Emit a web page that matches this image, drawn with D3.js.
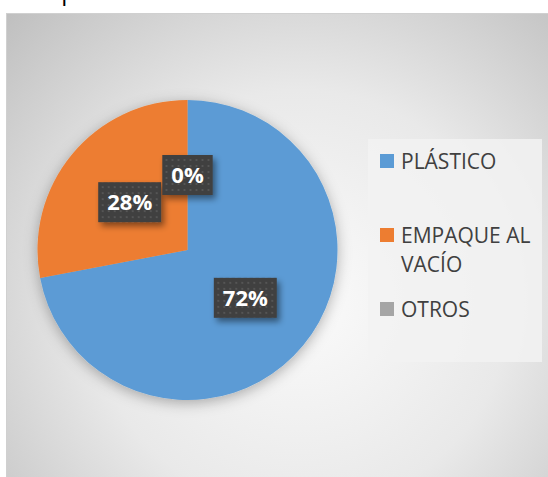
<!DOCTYPE html>
<html>
<head>
<meta charset="utf-8">
<script src="https://cdn.jsdelivr.net/npm/d3@7"></script>
<style>
  html, body { margin: 0; padding: 0; background: #ffffff; }
  svg { display: block; }
</style>
</head>
<body>
<div id="chart"></div>
<script>
// Packaging type shares
const categories = ["PLÁSTICO", "EMPAQUE AL VACÍO", "OTROS"];
const values = [72, 28, 0];
const labels = ["72%", "28%", "0%"];
const legendLines = [["PLÁSTICO"], ["EMPAQUE AL", "VACÍO"], ["OTROS"]];
const colors = ["#5B9BD5", "#ED7D31", "#A5A5A5"];
const title = "Tipo";

const W = 548, H = 477;
const svg = d3.select("#chart").append("svg")
  .attr("width", W).attr("height", H);

const defs = svg.append("defs");

// chart area background: soft radial gradient
const bg = defs.append("radialGradient")
  .attr("id", "bgGrad")
  .attr("gradientUnits", "userSpaceOnUse")
  .attr("cx", 300).attr("cy", 300).attr("r", 420);
bg.append("stop").attr("offset", "0").attr("stop-color", "#fbfbfb");
bg.append("stop").attr("offset", "0.5").attr("stop-color", "#e9e9e9");
bg.append("stop").attr("offset", "1").attr("stop-color", "#bdbdbd");

// pie halo shadow
const pieShadow = defs.append("filter").attr("id", "pieShadow")
  .attr("x", "-30%").attr("y", "-30%").attr("width", "160%").attr("height", "160%");
pieShadow.append("feDropShadow")
  .attr("dx", 0).attr("dy", 3).attr("stdDeviation", 7)
  .attr("flood-color", "#000").attr("flood-opacity", 0.3);

// label box shadow
const boxShadow = defs.append("filter").attr("id", "boxShadow")
  .attr("x", "-30%").attr("y", "-30%").attr("width", "170%").attr("height", "180%");
boxShadow.append("feDropShadow")
  .attr("dx", 3).attr("dy", 4).attr("stdDeviation", 3)
  .attr("flood-color", "#000").attr("flood-opacity", 0.45);

// dotted fill for data label boxes
const dots = defs.append("pattern").attr("id", "dots")
  .attr("patternUnits", "userSpaceOnUse")
  .attr("width", 6).attr("height", 6);
dots.append("rect").attr("width", 6).attr("height", 6).attr("fill", "#3f3f3f");
dots.append("rect").attr("x", 2).attr("y", 2).attr("width", 2).attr("height", 2).attr("fill", "#555555");

// title (mostly above the visible area)
svg.append("text")
  .attr("x", 42).attr("y", 0)
  .attr("font-family", "Open Sans, sans-serif")
  .attr("font-size", 24)
  .attr("fill", "#000")
  .text(title);

// chart frame
svg.append("rect")
  .attr("x", 6.5).attr("y", 13.5)
  .attr("width", W).attr("height", H)
  .attr("fill", "url(#bgGrad)")
  .attr("stroke", "#d0d0d0").attr("stroke-width", 1);

// pie
const cx = 187.5, cy = 250, R = 150;
const pie = d3.pie().sort(null).value(d => d)(values);
const arc = d3.arc().innerRadius(0).outerRadius(R);
const labelArc = d3.arc().innerRadius(0).outerRadius(R);

const g = svg.append("g").attr("transform", `translate(${cx},${cy})`);
g.append("g").attr("filter", "url(#pieShadow)")
  .selectAll("path")
  .data(pie)
  .join("path")
  .attr("d", arc)
  .attr("fill", (d, i) => colors[i]);

// data labels
const labelG = g.selectAll("g.lbl")
  .data(pie)
  .join("g")
  .attr("class", "lbl")
  .attr("transform", d => {
    const [x, y] = labelArc.centroid(d);
    return `translate(${x},${y})`;
  });

labelG.each(function(d, i) {
  const sel = d3.select(this);
  const t = sel.append("text")
    .attr("text-anchor", "middle")
    .attr("dy", "0.36em")
    .attr("font-family", "Open Sans, sans-serif")
    .attr("font-weight", "bold")
    .attr("font-size", 22)
    .attr("fill", "#ffffff")
    .text(labels[i]);
  const w = t.node().getComputedTextLength() + 18;
  const h = 40;
  sel.insert("rect", "text")
    .attr("x", -w / 2).attr("y", -h / 2)
    .attr("width", w).attr("height", h)
    .attr("fill", "url(#dots)")
    .attr("filter", "url(#boxShadow)");
});

// legend
const lg = svg.append("g");
lg.append("rect")
  .attr("x", 368).attr("y", 139)
  .attr("width", 174).attr("height", 223)
  .attr("fill", "#f2f2f2").attr("fill-opacity", 0.85);

const baselines = [169, 243, 317];
categories.forEach((c, i) => {
  const y = baselines[i];
  lg.append("rect")
    .attr("x", 380).attr("y", y - 15)
    .attr("width", 14).attr("height", 14)
    .attr("fill", colors[i]);
  const t = lg.append("text")
    .attr("x", 401).attr("y", y)
    .attr("font-family", "Open Sans, sans-serif")
    .attr("font-size", 21)
    .attr("fill", "#404040");
  legendLines[i].forEach((line, j) => {
    t.append("tspan").attr("x", 401).attr("y", y + j * 29).text(line);
  });
});
</script>
</body>
</html>
